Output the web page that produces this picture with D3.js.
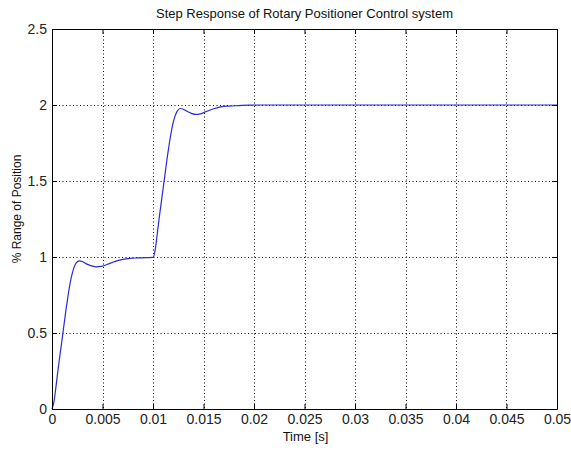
<!DOCTYPE html>
<html><head><meta charset="utf-8">
<script src="https://cdn.jsdelivr.net/npm/d3@7"></script>
<style>body{margin:0;background:#fff}svg{display:block}text{font-family:"Liberation Sans",Arial,sans-serif}</style>
</head><body>
<script>
const titleText = "Step Response of Rotary Positioner Control system";
const xLabel = "Time [s]";
const yLabel = "% Range of Position";
const xTicks = [0,0.005,0.01,0.015,0.02,0.025,0.03,0.035,0.04,0.045,0.05];
const xTickLabels = ["0","0.005","0.01","0.015","0.02","0.025","0.03","0.035","0.04","0.045","0.05"];
const yTicks = [0,0.5,1,1.5,2,2.5];
const yTickLabels = ["0","0.5","1","1.5","2","2.5"];
const time = [0,0.0002,0.0004,0.0006,0.0008,0.0010,0.0012,0.0014,0.0016,0.0018,0.0020,0.0022,0.0024,0.0027,0.0030,0.0034,0.0039,0.0044,0.0049,0.0055,0.0062,0.0070,0.0077,0.0085,0.0093,0.0100,
  0.0102,0.0104,0.0106,0.0108,0.0110,0.0112,0.0114,0.0116,0.0118,0.0120,0.0122,0.0124,0.0127,0.0130,0.0134,0.0138,0.0142,0.0147,0.0153,0.0160,0.0167,0.0175,0.0185,0.0195,0.0205,0.025,0.03,0.035,0.04,0.045,0.05];
const response = [0,0.05,0.15,0.26,0.36,0.46,0.56,0.66,0.75,0.83,0.89,0.935,0.962,0.975,0.97,0.955,0.942,0.935,0.938,0.952,0.970,0.984,0.991,0.994,0.996,0.997,
  1.04,1.14,1.25,1.35,1.45,1.55,1.65,1.74,1.82,1.885,1.93,1.96,1.977,1.972,1.957,1.945,1.938,1.942,1.958,1.975,1.988,1.993,1.996,1.999,2.0,2.0,2.0,2.0,2.0,2.0,2.0];

const W=571,H=450, L=52, R=557, T=29, B=409;
const svg=d3.select("body").append("svg").attr("width",W).attr("height",H);
svg.append("rect").attr("width",W).attr("height",H).attr("fill","#fff");
const x=d3.scaleLinear().domain([0,0.05]).range([L,R]);
const y=d3.scaleLinear().domain([0,2.5]).range([B,T]);
const g=svg.append("g");
g.selectAll(".gx").data(xTicks.slice(1,-1)).enter().append("line")
 .attr("x1",d=>Math.round(x(d))+0.5).attr("x2",d=>Math.round(x(d))+0.5).attr("y1",T).attr("y2",B)
 .attr("stroke","#000").attr("stroke-width",1).attr("stroke-dasharray","1,2.5");
g.selectAll(".gy").data(yTicks.slice(1,-1)).enter().append("line")
 .attr("y1",d=>Math.round(y(d))+0.5).attr("y2",d=>Math.round(y(d))+0.5).attr("x1",L).attr("x2",R)
 .attr("stroke","#000").attr("stroke-width",1).attr("stroke-dasharray","1,2.5");
const line=d3.line().x((d,i)=>x(time[i])).y(d=>y(d)).curve(d3.curveMonotoneX);
g.append("path").datum(response).attr("d",line).attr("fill","none").attr("stroke","#2a2ad8").attr("stroke-width",1.2);
const axB=d3.axisBottom(x).tickValues(xTicks).tickFormat((d,i)=>xTickLabels[i]).tickSizeInner(-5).tickSizeOuter(0).tickPadding(5);
const axL=d3.axisLeft(y).tickValues(yTicks).tickFormat((d,i)=>yTickLabels[i]).tickSizeInner(-5).tickSizeOuter(0).tickPadding(5);
const axT=d3.axisTop(x).tickValues(xTicks).tickFormat("").tickSizeInner(-5).tickSizeOuter(0);
const axR=d3.axisRight(y).tickValues(yTicks).tickFormat("").tickSizeInner(-5).tickSizeOuter(0);
[[axB,`translate(0,${B})`],[axL,`translate(${L},0)`],[axT,`translate(0,${T})`],[axR,`translate(${R},0)`]].forEach(([a,t])=>{
  const s=svg.append("g").attr("transform",t).call(a);
  s.select(".domain").attr("stroke","#000");
  s.selectAll(".tick line").attr("stroke","#000");
  s.selectAll("text").attr("font-size",14).attr("fill","#222").attr("font-family","'Liberation Sans',Arial,sans-serif");
});
svg.append("text").attr("x",(L+R)/2).attr("y",18).attr("text-anchor","middle").attr("font-size",13).attr("fill","#111").text(titleText);
svg.append("text").attr("x",(L+R)/2+1).attr("y",441).attr("text-anchor","middle").attr("font-size",13).attr("fill","#111").text(xLabel);
svg.append("text").attr("transform",`translate(21,209) rotate(-90)`).attr("text-anchor","middle").attr("font-size",12).attr("fill","#111").text(yLabel);
</script>
</body></html>
